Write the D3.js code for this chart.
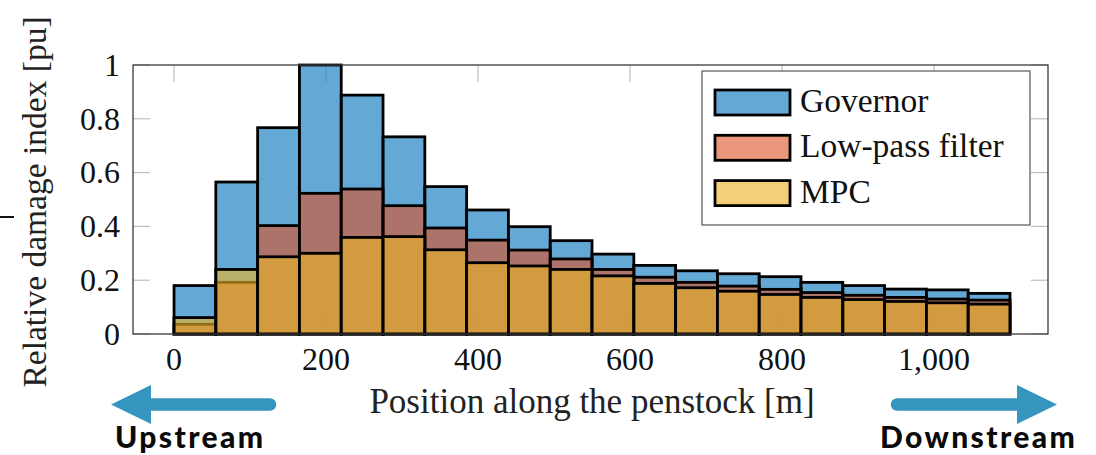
<!DOCTYPE html>
<html>
<head>
<meta charset="utf-8">
<script src="https://cdn.jsdelivr.net/npm/d3@7"></script>
<style>
  html, body { margin: 0; padding: 0; background: #fff; }
  svg { display: block; }
</style>
</head>
<body>
<svg id="chart" width="1096" height="455"></svg>
<script>
// Histogram bin edges along the penstock [m]
const binEdges = [0, 55, 110, 165, 220, 275, 330, 385, 440, 495, 550,
                  605, 660, 715, 770, 825, 880, 935, 990, 1045, 1100];

// Relative damage index per bin [pu]
const governor = [0.180, 0.565, 0.767, 1.000, 0.888, 0.733, 0.548, 0.461, 0.399, 0.347,
                  0.297, 0.255, 0.235, 0.224, 0.213, 0.192, 0.180, 0.167, 0.164, 0.151];
const lowPass  = [0.036, 0.192, 0.403, 0.523, 0.539, 0.477, 0.394, 0.349, 0.312, 0.279,
                  0.240, 0.211, 0.192, 0.178, 0.166, 0.154, 0.144, 0.136, 0.130, 0.126];
const mpc      = [0.061, 0.240, 0.287, 0.300, 0.359, 0.362, 0.313, 0.265, 0.253, 0.240,
                  0.216, 0.188, 0.172, 0.159, 0.147, 0.136, 0.128, 0.121, 0.116, 0.111];

const seriesNames = ["Governor", "Low-pass filter", "MPC"];
const xTicks = [0, 200, 400, 600, 800, 1000];
const xTickLabels = ["0", "200", "400", "600", "800", "1,000"];
const yTicks = [0, 0.2, 0.4, 0.6, 0.8, 1];
const yTickLabels = ["0", "0.2", "0.4", "0.6", "0.8", "1"];

const series = [
  { name: seriesNames[0], values: governor, fill: "#2284c4", opacity: 0.7,  legend: "#64a9d6" },
  { name: seriesNames[1], values: lowPass,  fill: "#da5021", opacity: 0.6,  legend: "#e9967a" },
  { name: seriesNames[2], values: mpc,      fill: "#ebb325", opacity: 0.62, legend: "#f3cf78" }
];

const svg = d3.select("#chart");
const serif = "'Liberation Serif', 'Times New Roman', serif";

const plot = { left: 133, right: 1048, top: 65, bottom: 334 };

const x = d3.scaleLinear().domain([-54, 1150]).range([plot.left, plot.right]);
const y = d3.scaleLinear().domain([0, 1]).range([plot.bottom, plot.top]);

const tickLen = 17;
const tickColor = "#b4b4b4";

// Inward ticks on all four sides, drawn beneath the bars
const ticksG = svg.append("g");
xTicks.forEach(v => {
  ticksG.append("line").attr("x1", x(v)).attr("x2", x(v))
    .attr("y1", plot.bottom).attr("y2", plot.bottom - tickLen)
    .attr("stroke", tickColor).attr("stroke-width", 1);
  ticksG.append("line").attr("x1", x(v)).attr("x2", x(v))
    .attr("y1", plot.top).attr("y2", plot.top + tickLen)
    .attr("stroke", tickColor).attr("stroke-width", 1);
});
yTicks.forEach(v => {
  ticksG.append("line").attr("x1", plot.left).attr("x2", plot.left + tickLen)
    .attr("y1", y(v)).attr("y2", y(v))
    .attr("stroke", tickColor).attr("stroke-width", 1);
  ticksG.append("line").attr("x1", plot.right).attr("x2", plot.right - tickLen)
    .attr("y1", y(v)).attr("y2", y(v))
    .attr("stroke", tickColor).attr("stroke-width", 1);
});

// Overlaid translucent histogram bars
series.forEach(s => {
  svg.append("g")
    .selectAll("rect")
    .data(s.values)
    .join("rect")
    .attr("x", (d, i) => x(binEdges[i]))
    .attr("width", (d, i) => x(binEdges[i + 1]) - x(binEdges[i]))
    .attr("y", d => y(d))
    .attr("height", d => y(0) - y(d))
    .attr("fill", s.fill)
    .attr("fill-opacity", s.opacity)
    .attr("stroke", "#000")
    .attr("stroke-width", 2.8)
    .attr("stroke-linejoin", "miter");
});

// Axis frame
svg.append("rect")
  .attr("x", plot.left).attr("y", plot.top)
  .attr("width", plot.right - plot.left).attr("height", plot.bottom - plot.top)
  .attr("fill", "none").attr("stroke", "#3a3a3a").attr("stroke-width", 1.3);

// Tick labels
svg.append("g").selectAll("text")
  .data(yTicks)
  .join("text")
  .attr("x", 120)
  .attr("y", d => y(d))
  .attr("dy", "0.34em")
  .attr("text-anchor", "end")
  .attr("font-family", serif)
  .attr("font-size", 32)
  .attr("fill", "#111")
  .text((d, i) => yTickLabels[i]);

svg.append("g").selectAll("text")
  .data(xTicks)
  .join("text")
  .attr("x", d => x(d))
  .attr("y", 370)
  .attr("text-anchor", "middle")
  .attr("font-family", serif)
  .attr("font-size", 32)
  .attr("fill", "#111")
  .text((d, i) => xTickLabels[i]);

// Axis titles
svg.append("text")
  .attr("transform", "translate(46,202) rotate(-90)")
  .attr("text-anchor", "middle")
  .attr("font-family", serif)
  .attr("font-size", 33.5)
  .attr("fill", "#222")
  .text("Relative damage index [pu]");

svg.append("text")
  .attr("x", 592).attr("y", 413)
  .attr("text-anchor", "middle")
  .attr("font-family", serif)
  .attr("font-size", 35)
  .attr("fill", "#222")
  .text("Position along the penstock [m]");

// Legend
const legend = svg.append("g");
legend.append("rect")
  .attr("x", 702).attr("y", 71).attr("width", 328).attr("height", 154)
  .attr("fill", "#fff").attr("stroke", "#555").attr("stroke-width", 1.2);
series.forEach((s, i) => {
  const base = 112 + i * 45.3;
  legend.append("rect")
    .attr("x", 715).attr("y", base - 22).attr("width", 75).attr("height", 25)
    .attr("fill", s.legend)
    .attr("stroke", "#000").attr("stroke-width", 2.8);
  legend.append("text")
    .attr("x", 800).attr("y", base)
    .attr("font-family", serif)
    .attr("font-size", 33.5)
    .attr("fill", "#111")
    .text(s.name);
});

// Small stray dash at the left margin
svg.append("line")
  .attr("x1", 0).attr("x2", 14).attr("y1", 217).attr("y2", 217)
  .attr("stroke", "#111").attr("stroke-width", 2);

// Flow direction arrows
const arrowColor = "#3595be";
const arrows = svg.append("g");
// upstream (pointing left)
arrows.append("line")
  .attr("x1", 148).attr("x2", 270).attr("y1", 404.5).attr("y2", 404.5)
  .attr("stroke", arrowColor).attr("stroke-width", 12.5).attr("stroke-linecap", "round");
arrows.append("path")
  .attr("d", "M111,404.5 L151,385 L151,424 Z")
  .attr("fill", arrowColor);
// downstream (pointing right)
arrows.append("line")
  .attr("x1", 897).attr("x2", 1020).attr("y1", 404.5).attr("y2", 404.5)
  .attr("stroke", arrowColor).attr("stroke-width", 12.5).attr("stroke-linecap", "round");
arrows.append("path")
  .attr("d", "M1057,404.5 L1017,385 L1017,424 Z")
  .attr("fill", arrowColor);

const sansBold = "Lato, 'Noto Sans', sans-serif";
svg.append("text")
  .attr("x", 115).attr("y", 448)
  .attr("font-family", sansBold).attr("font-weight", 900)
  .attr("font-size", 30).attr("letter-spacing", 2.4)
  .attr("fill", "#0a0a0a")
  .text("Upstream");
svg.append("text")
  .attr("x", 880).attr("y", 448)
  .attr("font-family", sansBold).attr("font-weight", 900)
  .attr("font-size", 30).attr("letter-spacing", 2.4)
  .attr("fill", "#0a0a0a")
  .text("Downstream");
</script>
</body>
</html>
